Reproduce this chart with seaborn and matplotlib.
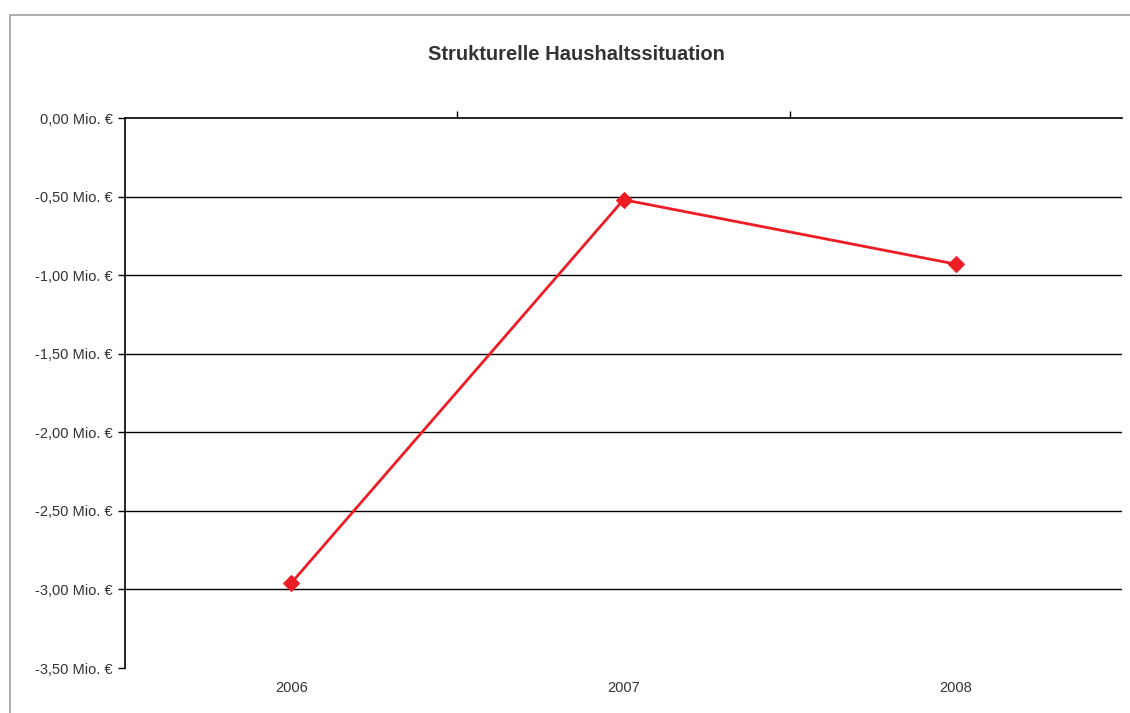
import seaborn as sns
import matplotlib.pyplot as plt
import pandas as pd
from matplotlib.ticker import FixedLocator, FuncFormatter
from matplotlib.patches import Rectangle

jahre = ['2006', '2007', '2008']
werte = [-2.96, -0.52, -0.93]
y_ticks = [0, -0.5, -1.0, -1.5, -2.0, -2.5, -3.0, -3.5]

df = pd.DataFrame({'jahr': jahre, 'wert': werte})

sns.set_style('white')
plt.rcParams['font.family'] = ['Liberation Sans', 'DejaVu Sans']

fig = plt.figure(figsize=(11.3, 7.13), dpi=100)
ax = fig.add_axes([125/1130, 1 - 668/713, (1122 - 125)/1130, (668 - 118)/713])

sns.lineplot(data=df, x='jahr', y='wert', ax=ax, color='#ee1c25', linewidth=2,
             marker='D', markersize=8, markeredgecolor='#ee1c25', sort=False, zorder=5)

ax.set_xlim(-0.5, 2.5)
ax.set_ylim(-3.5, 0)
ax.set_yticks(y_ticks)
ax.yaxis.set_major_formatter(FuncFormatter(lambda v, p: f'{v:.2f}'.replace('.', ',') + ' Mio. €'))
for v in y_ticks[1:-1]:
    ax.axhline(v, color='black', linewidth=1, zorder=1)

for s in ['bottom', 'right']:
    ax.spines[s].set_visible(False)
for s in ['top', 'left']:
    ax.spines[s].set_color('black')
    ax.spines[s].set_linewidth(1.2)

ax.tick_params(axis='y', left=True, direction='out', length=5, width=1, colors='black',
               labelcolor='#333333', labelsize=10.5, pad=4)
ax.tick_params(axis='x', which='major', bottom=False, top=False, labelsize=10.5,
               labelcolor='#333333', pad=6)
ax.xaxis.set_minor_locator(FixedLocator([0.5, 1.5]))
ax.tick_params(axis='x', which='minor', top=True, bottom=False, direction='out',
               length=5, width=1, colors='black')
ax.set_xlabel('')
ax.set_ylabel('')

fig.text(576/1130, 1 - 55/713, 'Strukturelle Haushaltssituation', ha='center', va='center',
         fontsize=14.5, fontweight='bold', color='#333333')

fig.patches.append(Rectangle((10/1130, -0.1), 1.2, 1 - 15/713 + 0.1, transform=fig.transFigure,
                             fill=False, edgecolor='#a0a0a0', linewidth=1.2))

fig.savefig('out.png', dpi=100)
